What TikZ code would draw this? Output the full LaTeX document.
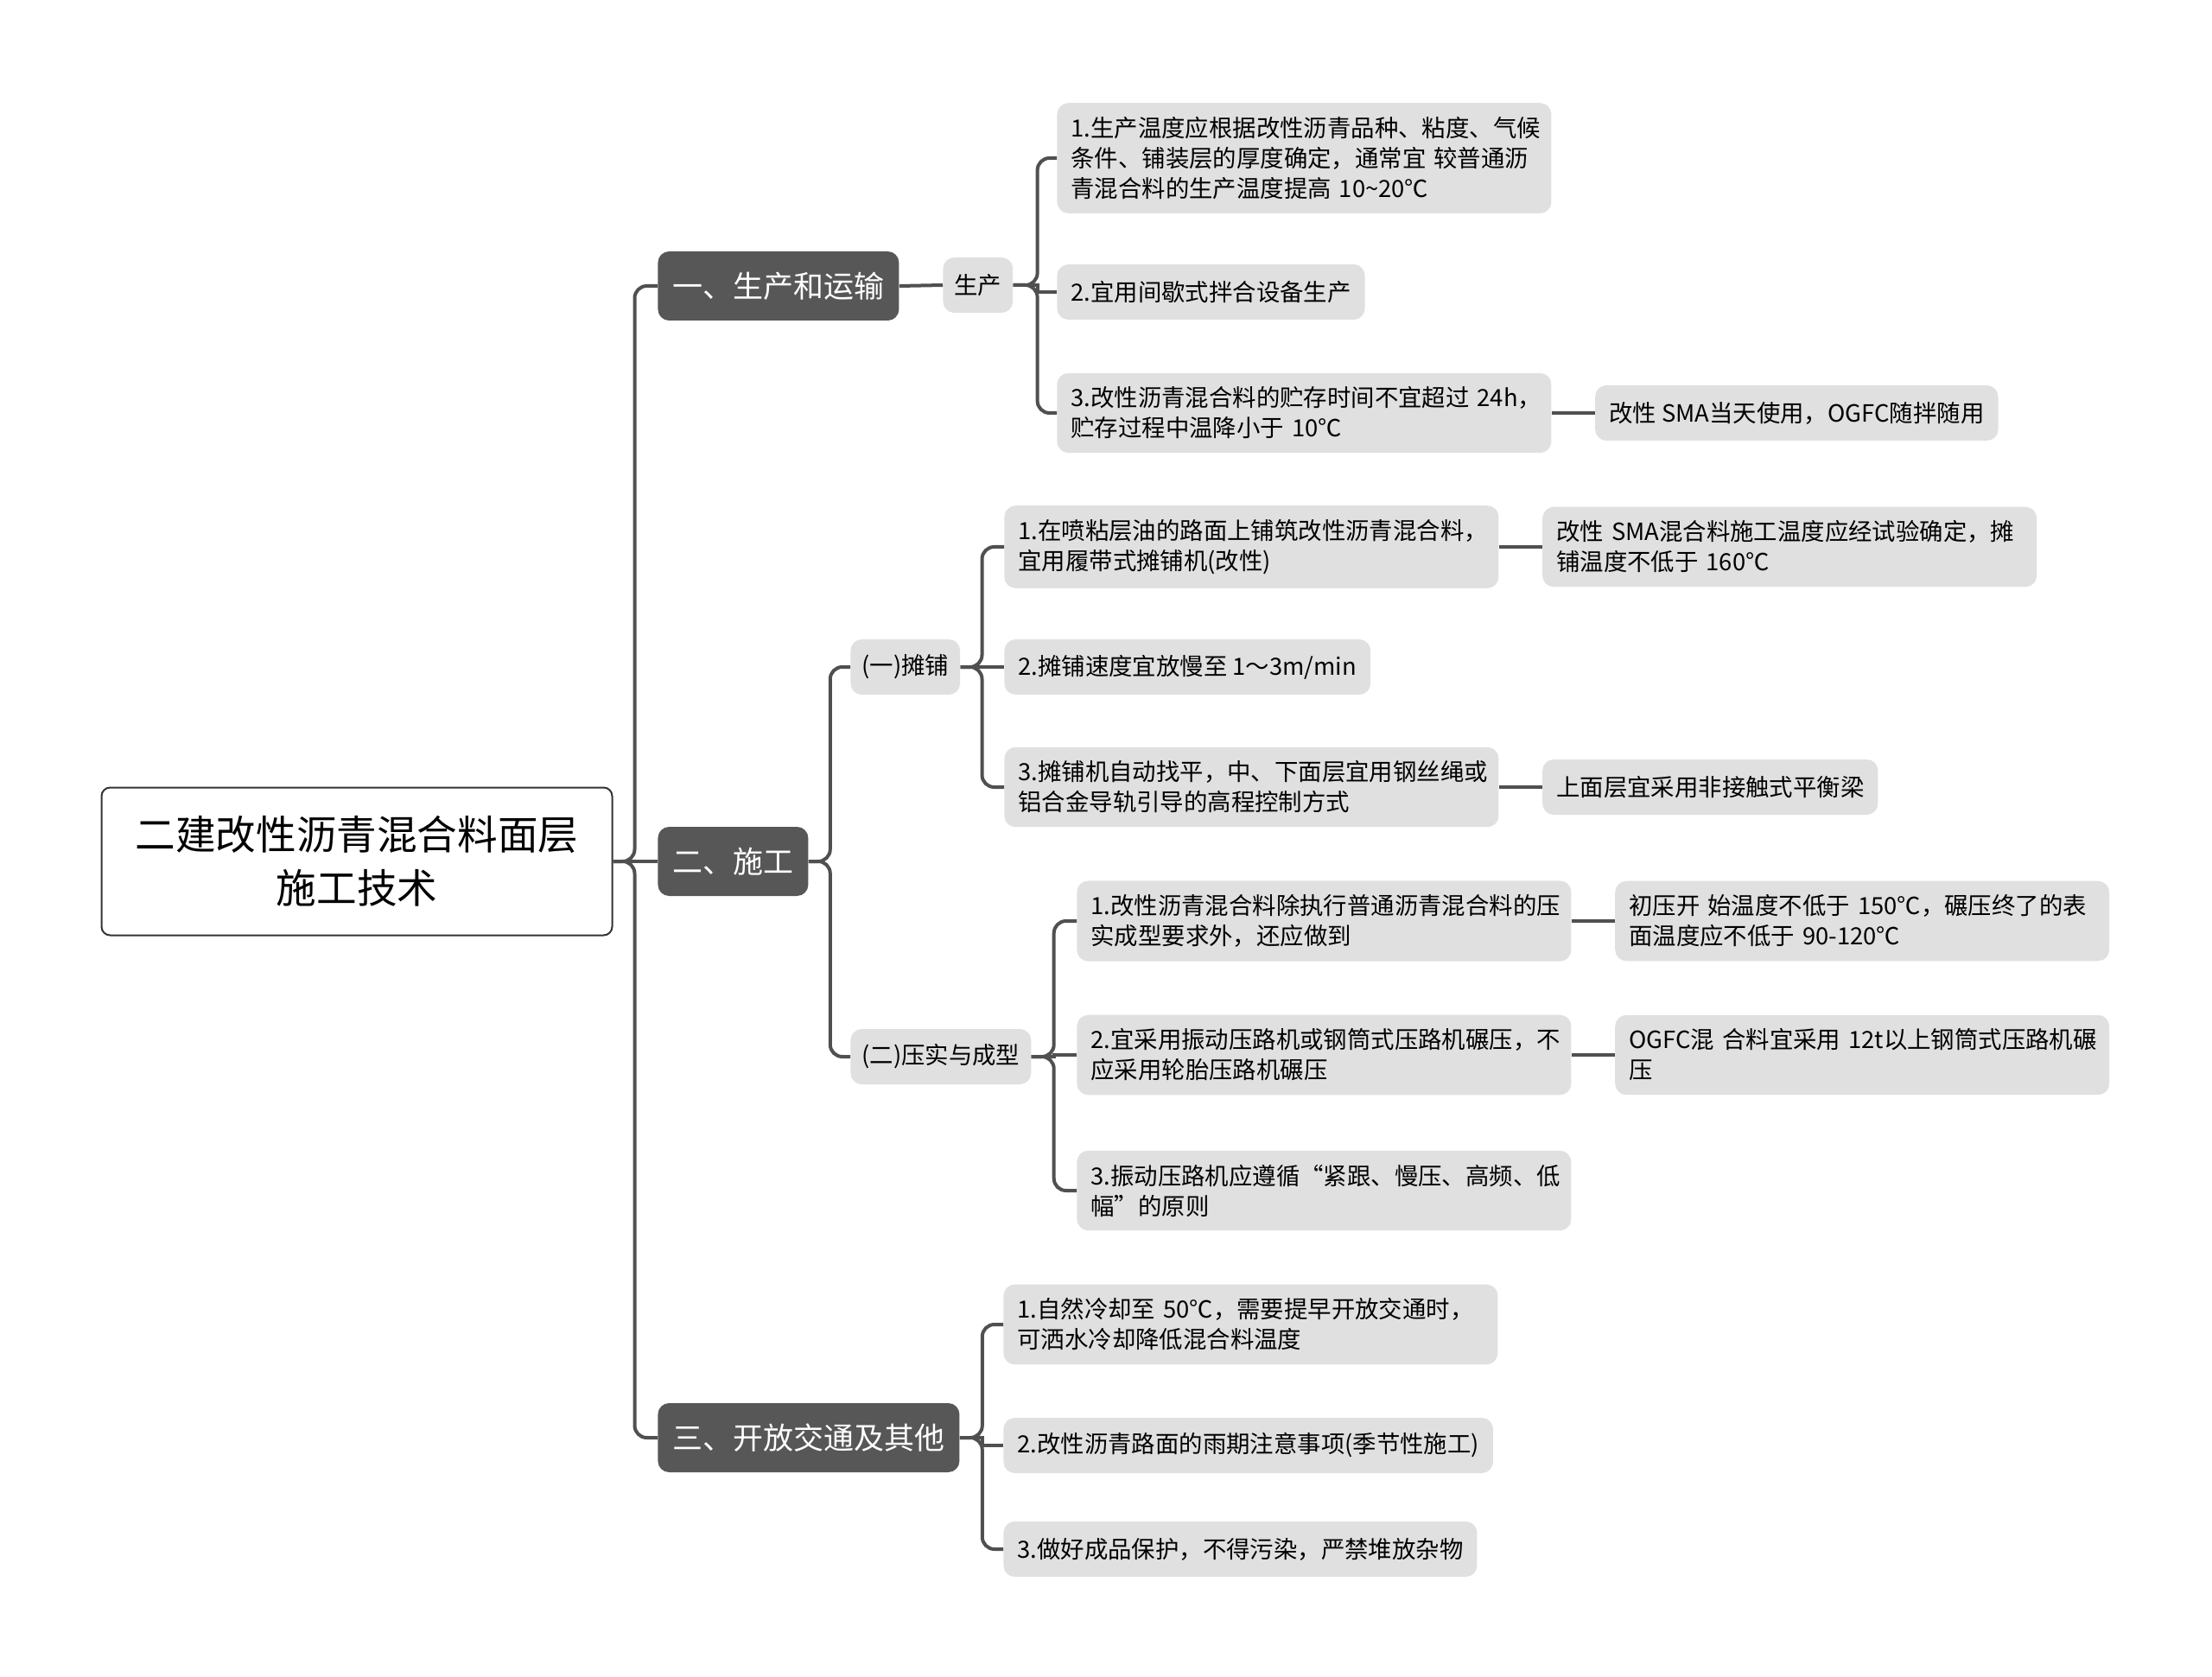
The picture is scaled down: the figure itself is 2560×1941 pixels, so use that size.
\documentclass[tikz,border=0pt]{standalone}
\usepackage{fontspec}
\setmainfont{Noto Sans CJK SC}
\usetikzlibrary{positioning}

\definecolor{linegray}{RGB}{80,80,80}
\definecolor{topgray}{RGB}{87,87,87}
\definecolor{leafgray}{RGB}{224,224,224}
\definecolor{rootline}{RGB}{51,51,51}

\begin{document}
\begin{tikzpicture}[
  x=0.5pt, y=-0.5pt,
  root/.style={draw=rootline, line width=1pt, rounded corners=5pt, fill=white, align=center,
    minimum width=295.5pt, minimum height=85.5pt, font=\fontsize{23.3}{31}\selectfont},
  topic/.style={fill=topgray, text=white, rounded corners=6.5pt, anchor=west, inner xsep=8.5pt,
    minimum height=40pt, font=\fontsize{17.5}{21}\selectfont},
  sub/.style={fill=leafgray, rounded corners=6.5pt, anchor=west, inner xsep=6.5pt,
    minimum height=32pt, font=\fontsize{13.7}{17.5}\selectfont},
  leaf/.style={fill=leafgray, rounded corners=6.5pt, anchor=west, align=left, inner xsep=8pt,
    inner ysep=8pt, minimum height=32pt, font=\fontsize{13.7}{17.5}\selectfont},
  wrap/.style={leaf, text width=270pt},
  link/.style={draw=linegray, line width=2pt, rounded corners=7pt},
  straight/.style={draw=linegray, line width=2pt}
]
\useasboundingbox (0,0) rectangle (2560,1941);

% Tema central y ramas principales
\node[root] (root) at (413,997) {二建改性沥青混合料面层\\施工技术};
\node[topic] (prod) at (761,331) {一、生产和运输};
\node[topic] (cons) at (761,997) {二、施工};
\node[topic] (open) at (761,1664) {三、开放交通及其他};

% Subtemas
\node[sub] (make) at (1091,330) {生产};
\node[sub] (pave) at (984,772) {(一)摊铺};
\node[sub] (comp) at (984,1223) {(二)压实与成型};

% Hojas: producción
\node[wrap] (make1) at (1223,183) {1.生产温度应根据改性沥青品种、粘度、气候\\条件、铺装层的厚度确定，通常宜~较普通沥\\青混合料的生产温度提高~10\textasciitilde20℃};
\node[leaf] (make2) at (1223,338) {2.宜用间歇式拌合设备生产};
\node[wrap] (make3) at (1223,478) {3.改性沥青混合料的贮存时间不宜超过~24h，\\贮存过程中温降小于~10℃};
\node[leaf, right=25pt of make3] (make3n) {改性~SMA当天使用，OGFC随拌随用};

% Hojas: extendido
\node[wrap] (pave1) at (1162,633) {1.在喷粘层油的路面上铺筑改性沥青混合料，\\宜用履带式摊铺机(改性)};
\node[wrap, right=25pt of pave1] (pave1n) {改性~SMA混合料施工温度应经试验确定，摊\\铺温度不低于~160℃};
\node[leaf] (pave2) at (1162,772) {2.摊铺速度宜放慢至~1～3m/min};
\node[wrap] (pave3) at (1162,911) {3.摊铺机自动找平，中、下面层宜用钢丝绳或\\铝合金导轨引导的高程控制方式};
\node[leaf, right=25pt of pave3] (pave3n) {上面层宜采用非接触式平衡梁};

% Hojas: compactación
\node[wrap] (comp1) at (1246,1066) {1.改性沥青混合料除执行普通沥青混合料的压\\实成型要求外，还应做到};
\node[wrap, right=25pt of comp1] (comp1n) {初压开~始温度不低于~150℃，碾压终了的表\\面温度应不低于~90-120℃};
\node[wrap] (comp2) at (1246,1221) {2.宜采用振动压路机或钢筒式压路机碾压，不\\应采用轮胎压路机碾压};
\node[wrap, right=25pt of comp2] (comp2n) {OGFC混~合料宜采用~12t以上钢筒式压路机碾\\压};
\node[wrap] (comp3) at (1246,1378) {3.振动压路机应遵循“紧跟、慢压、高频、低\\幅”的原则};

% Hojas: apertura al tráfico
\node[wrap] (open1) at (1161,1533) {1.自然冷却至~50℃，需要提早开放交通时，\\可洒水冷却降低混合料温度};
\node[leaf] (open2) at (1161,1673) {2.改性沥青路面的雨期注意事项(季节性施工)};
\node[leaf] (open3) at (1161,1793) {3.做好成品保护，不得污染，严禁堆放杂物};

% Conexiones (ramas en corchete)
\foreach \p/\c/\d in {root/prod/25, root/open/25, make/make1/28, make/make3/28,
    cons/pave/25, cons/comp/25, pave/pave1/25, pave/pave3/25,
    comp/comp1/26, comp/comp3/26, open/open1/26, open/open3/26}
  \draw[link] (\p.east) -- ++(\d,0) |- (\c.west);

% Conexiones centrales (sin curva)
\foreach \p/\c/\d in {root/cons/25, make/make2/28, pave/pave2/25, comp/comp2/26, open/open2/26}
  \draw[straight] (\p.east) -- ++(\d,0) |- (\c.west);
\draw[straight] (prod.east) -- (make.west);

% Notas laterales
\draw[straight] (make3.east) -- (make3n.west);
\draw[straight] (pave1.east) -- (pave1n.west);
\draw[straight] (pave3.east) -- (pave3n.west);
\draw[straight] (comp1.east) -- (comp1n.west);
\draw[straight] (comp2.east) -- (comp2n.west);

\end{tikzpicture}
\end{document}
